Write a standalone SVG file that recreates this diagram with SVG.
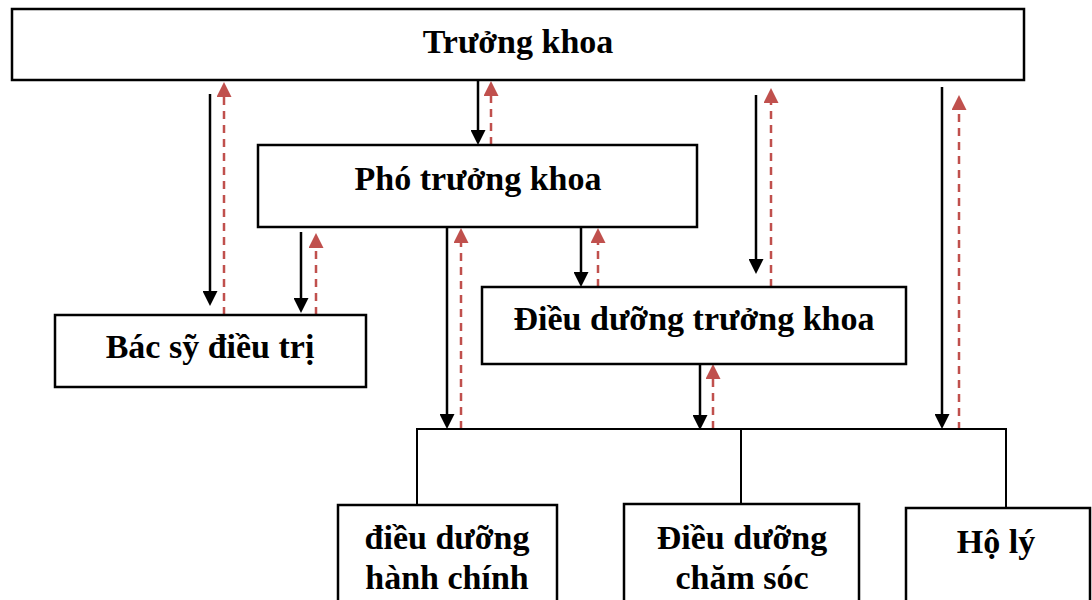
<svg xmlns="http://www.w3.org/2000/svg" width="1092" height="600" viewBox="0 0 1092 600">
<defs>
<style>
.box{fill:#fff;stroke:#000;stroke-width:2.5}
.t{font-family:"Liberation Serif","Times New Roman",serif;font-weight:bold;font-size:34px;fill:#000;text-anchor:middle}
.down{stroke:#000;stroke-width:2.5;fill:none;marker-end:url(#ab)}
.up{stroke:#C0504D;stroke-width:2.5;fill:none;stroke-dasharray:8,6;marker-end:url(#ar)}
.bus{stroke:#000;stroke-width:2;fill:none}
</style>
<marker id="ab" viewBox="0 0 10 10" refX="4" refY="5" markerWidth="15" markerHeight="15" markerUnits="userSpaceOnUse" orient="auto">
<path d="M0,0 L10,5 L0,10 z" fill="#000"/>
</marker>
<marker id="ar" viewBox="0 0 10 10" refX="4" refY="5" markerWidth="15" markerHeight="15" markerUnits="userSpaceOnUse" orient="auto">
<path d="M0,0 L10,5 L0,10 z" fill="#C0504D"/>
</marker>
</defs>
<rect width="1092" height="600" fill="#fff"/>
<g id="connectors">
<line class="down" x1="210" y1="94" x2="210" y2="297"/>
<line class="down" x1="478" y1="81" x2="478" y2="136"/>
<line class="down" x1="301" y1="232" x2="301" y2="304"/>
<line class="down" x1="447" y1="228" x2="447" y2="420"/>
<line class="down" x1="581" y1="228" x2="581" y2="278"/>
<line class="down" x1="756" y1="95" x2="756" y2="265"/>
<line class="down" x1="700" y1="365" x2="700" y2="421"/>
<line class="down" x1="942" y1="87" x2="942" y2="420"/>
<line class="up" x1="224" y1="315" x2="224" y2="91"/>
<line class="up" x1="491" y1="145" x2="491" y2="90"/>
<line class="up" x1="316" y1="315" x2="316" y2="242"/>
<line class="up" x1="461" y1="429" x2="461" y2="237"/>
<line class="up" x1="598" y1="287" x2="598" y2="237"/>
<line class="up" x1="771" y1="287" x2="771" y2="97"/>
<line class="up" x1="713" y1="429" x2="713" y2="373"/>
<line class="up" x1="959" y1="430" x2="959" y2="104"/>
<polyline class="bus" points="417,505 417,429 1006,429 1006,507"/>
<line class="bus" x1="741" y1="429" x2="741" y2="504"/>
</g>
<g id="truong-khoa">
<rect class="box" x="12" y="9" width="1012" height="71"/>
<text class="t" x="518" y="53">Trưởng khoa</text>
</g>
<g id="pho-truong-khoa">
<rect class="box" x="258" y="145" width="439" height="82"/>
<text class="t" x="478" y="190">Phó trưởng khoa</text>
</g>
<g id="bac-sy-dieu-tri">
<rect class="box" x="55" y="315" width="311" height="72"/>
<text class="t" x="210" y="358">Bác sỹ điều trị</text>
</g>
<g id="dieu-duong-truong-khoa">
<rect class="box" x="482" y="287" width="424" height="77"/>
<text class="t" x="694" y="330">Điều dưỡng trưởng khoa</text>
</g>
<g id="dieu-duong-hanh-chinh">
<rect class="box" x="338" y="505" width="219" height="110"/>
<text class="t" x="447" y="549">điều dưỡng</text>
<text class="t" x="447" y="589">hành chính</text>
</g>
<g id="dieu-duong-cham-soc">
<rect class="box" x="624" y="504" width="235" height="110"/>
<text class="t" x="742" y="549">Điều dưỡng</text>
<text class="t" x="742" y="589">chăm sóc</text>
</g>
<g id="ho-ly">
<rect class="box" x="906" y="508" width="184" height="110"/>
<text class="t" x="996" y="553">Hộ lý</text>
</g>
</svg>
